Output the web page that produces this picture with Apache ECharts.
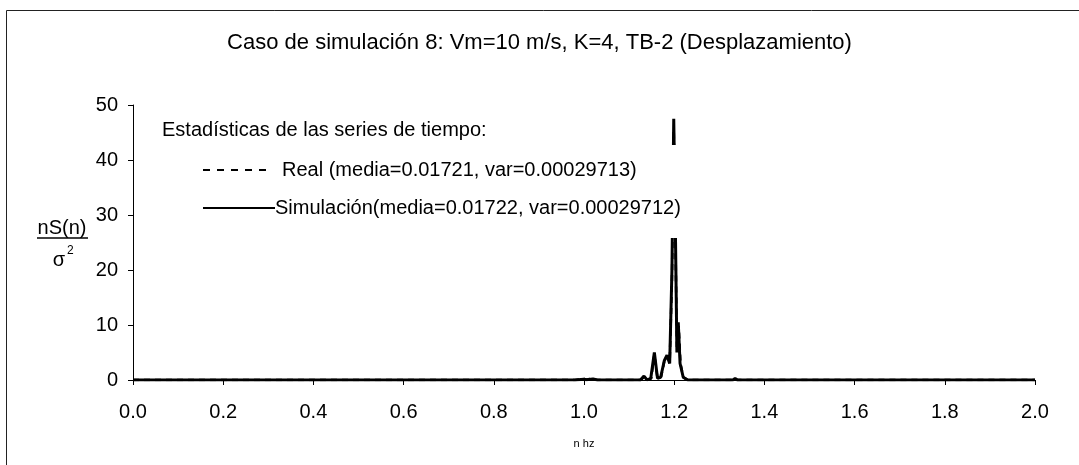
<!DOCTYPE html>
<html><head><meta charset="utf-8">
<script src="https://cdn.jsdelivr.net/npm/echarts@6/dist/echarts.min.js"></script>
<style>html,body{margin:0;padding:0;background:#fff}#c{width:1079px;height:465px}</style>
</head><body><div id="c"></div>
<script>
var titleText = 'Caso de simulación 8: Vm=10 m/s, K=4, TB-2 (Desplazamiento)';
var xTickLabels = ['0.0','0.2','0.4','0.6','0.8','1.0','1.2','1.4','1.6','1.8','2.0'];
var realN = [0, 0.5, 0.98, 1.0, 1.006, 1.012, 1.02, 1.03, 1.1, 1.126, 1.133, 1.14, 1.149, 1.156, 1.163, 1.171, 1.179, 1.185, 1.19, 1.195, 1.199, 1.203, 1.206, 1.21, 1.214, 1.22, 1.23, 1.33, 1.335, 1.34, 2.0];
var realS = [0, 0, 0, 0.2, 0.05, 0.2, 0.1, 0, 0, 0, 0.6, 0.05, 0.3, 4.6, 0.3, 0.6, 3.8, 4.2, 3.2, 18, 45.5, 24, 6, 9.8, 3, 0.5, 0, 0, 0.3, 0, 0];
var simN = [0, 0.5, 0.98, 1.0, 1.005, 1.01, 1.02, 1.03, 1.1, 1.125, 1.133, 1.14, 1.148, 1.156, 1.163, 1.17, 1.178, 1.184, 1.19, 1.195, 1.199, 1.203, 1.206, 1.209, 1.213, 1.22, 1.23, 1.33, 1.335, 1.34, 2.0];
var simS = [0, 0, 0, 0.15, 0.05, 0.1, 0.2, 0, 0, 0, 0.7, 0, 0.3, 5.0, 0.3, 0.5, 3.5, 4.5, 3.0, 20, 47.5, 25, 5, 10.5, 3, 0.5, 0, 0, 0.3, 0, 0];
var legendHeader = 'Estadísticas de las series de tiempo:';
var realLabel = 'Real (media=0.01721, var=0.00029713)';
var simLabel = 'Simulación(media=0.01722, var=0.00029712)';

function pairs(a, b){ return a.map(function(v,i){ return [v, b[i]]; }); }
var F = 'Liberation Sans, Arial, sans-serif';
var FS = 20;
var chart = echarts.init(document.getElementById('c'), null, {renderer:'canvas'});
chart.setOption({
  animation: false,
  backgroundColor: '#fff',
  title: { text: titleText, left: 'center', top: 27, textStyle: { fontFamily: F, fontSize: 22, fontWeight: 'normal', color: '#000' } },
  grid: { left: 133, right: 44, top: 105, bottom: 85 },
  xAxis: {
    type: 'value', min: 0, max: 2, interval: 0.2,
    name: 'n hz', nameLocation: 'middle', nameGap: 58,
    nameTextStyle: { fontFamily: F, fontSize: 11, color: '#000' },
    axisLine: { lineStyle: { color: '#000', width: 1 } },
    axisTick: { show: true, length: 5, lineStyle: { color: '#000' } },
    axisLabel: { fontFamily: F, fontSize: FS, color: '#000', margin: 22, formatter: function(v){ return v.toFixed(1); } },
    splitLine: { show: false }
  },
  yAxis: {
    type: 'value', min: 0, max: 50, interval: 10,
    axisLine: { show: true, lineStyle: { color: '#000', width: 1 } },
    axisTick: { show: true, length: 5, lineStyle: { color: '#000' } },
    axisLabel: { fontFamily: F, fontSize: FS, color: '#000', margin: 15 },
    splitLine: { show: false }
  },
  series: [
    { name: 'Real', type: 'line', data: pairs(realN, realS), showSymbol: false, smooth: false,
      lineStyle: { color: '#000', width: 2.5, type: [6, 5] }, z: 3 },
    { name: 'Simulación', type: 'line', data: pairs(simN, simS), showSymbol: false, smooth: false,
      lineStyle: { color: '#000', width: 3, type: 'solid' }, z: 2 }
  ],
  graphic: [
    { type: 'rect', z: 100, shape: { x: 6.5, y: 10.5, width: 1100, height: 500 }, style: { fill: 'none', stroke: '#222', lineWidth: 1 } },
    { type: 'rect', z: 100, shape: { x: 195, y: 145, width: 525, height: 93 }, style: { fill: '#fff', stroke: 'none' } },
    { type: 'text', z: 101, x: 162, y: 130, style: { text: legendHeader, fontFamily: F, fontSize: FS, fill: '#000', textVerticalAlign: 'middle' } },
    { type: 'line', z: 101, shape: { x1: 203, y1: 170, x2: 268, y2: 170 }, style: { stroke: '#000', lineWidth: 2, lineDash: [7, 7] } },
    { type: 'text', z: 101, x: 282, y: 170, style: { text: realLabel, fontFamily: F, fontSize: FS, fill: '#000', textVerticalAlign: 'middle' } },
    { type: 'line', z: 101, shape: { x1: 203, y1: 208, x2: 275, y2: 208 }, style: { stroke: '#000', lineWidth: 2 } },
    { type: 'text', z: 101, x: 275, y: 208, style: { text: simLabel, fontFamily: F, fontSize: FS, fill: '#000', textVerticalAlign: 'middle' } },
    { type: 'text', z: 101, x: 62, y: 228, style: { text: 'nS(n)', fontFamily: F, fontSize: FS, fill: '#000', textAlign: 'center', textVerticalAlign: 'middle' } },
    { type: 'line', z: 101, shape: { x1: 37, y1: 238, x2: 88, y2: 238 }, style: { stroke: '#000', lineWidth: 1.5 } },
    { type: 'text', z: 101, x: 59, y: 260, style: { text: 'σ', fontFamily: F, fontSize: FS, fill: '#000', textAlign: 'center', textVerticalAlign: 'middle' } },
    { type: 'text', z: 101, x: 67, y: 251, style: { text: '2', fontFamily: F, fontSize: 12, fill: '#000', textAlign: 'left', textVerticalAlign: 'middle' } }
  ]
});
</script></body></html>
